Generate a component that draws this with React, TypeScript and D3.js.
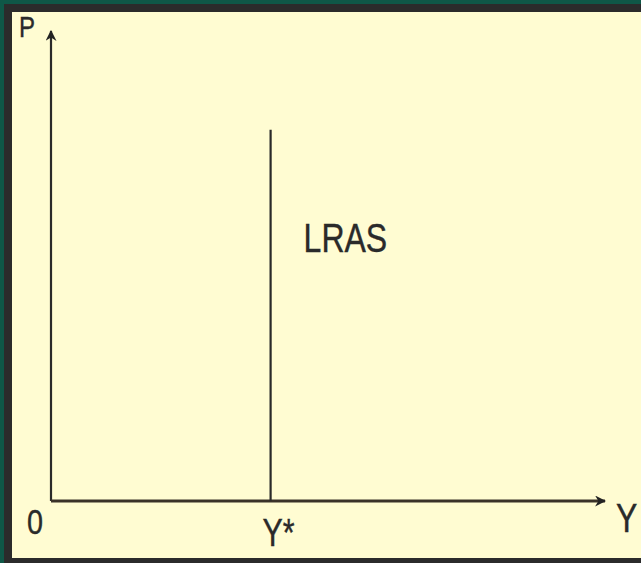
import React, { useEffect, useRef } from 'react';
import * as d3 from 'd3';

// axis labels and the single LRAS curve
const axisNames = { x: 'Y', y: 'P' };
const xTickValues = [0, 40];
const xTickLabels = ['0', 'Y*'];
const lrasX = [40, 40];
const lrasY = [0, 79];
const curveLabel = 'LRAS';

export default function App() {
  const ref = useRef<SVGSVGElement>(null);

  useEffect(() => {
    const width = 641;
    const height = 563;
    const svg = d3.select(ref.current);
    svg.selectAll('*').remove();
    svg.attr('width', width).attr('height', height);

    // frame
    svg.append('rect').attr('width', width).attr('height', height).attr('fill', '#0f5747');
    svg.append('rect').attr('x', 4).attr('y', 4).attr('width', width - 4).attr('height', height - 4).attr('fill', '#2b2b2b');
    svg.append('rect').attr('x', 12).attr('y', 12).attr('width', width - 12).attr('height', 546).attr('fill', '#fffcd2');

    const x = d3.scaleLinear().domain([0, 100]).range([51, 600]);
    const y = d3.scaleLinear().domain([0, 100]).range([501, 31]);

    const defs = svg.append('defs');
    defs.append('marker')
      .attr('id', 'arr')
      .attr('viewBox', '0 0 10 10')
      .attr('refX', 9)
      .attr('refY', 5)
      .attr('markerWidth', 11)
      .attr('markerHeight', 11)
      .attr('markerUnits', 'userSpaceOnUse')
      .attr('orient', 'auto')
      .append('path')
      .attr('d', 'M0,0 L10,5 L0,10 L3,5 Z')
      .attr('fill', '#222');

    const ink = '#2a2a2a';

    // axes
    svg.append('line')
      .attr('x1', x(0)).attr('y1', y(0)).attr('x2', x(0)).attr('y2', y(100))
      .attr('stroke', ink).attr('stroke-width', 2.2).attr('marker-end', 'url(#arr)');
    svg.append('line')
      .attr('x1', x(0)).attr('y1', y(0)).attr('x2', x(100) + 5).attr('y2', y(0))
      .attr('stroke', '#3a3228').attr('stroke-width', 3).attr('marker-end', 'url(#arr)');

    // LRAS
    const line = d3.line<number>().x((d, i) => x(lrasX[i])).y(d => y(d));
    svg.append('path')
      .attr('d', line(lrasY))
      .attr('fill', 'none')
      .attr('stroke', ink)
      .attr('stroke-width', 2.2);

    const txt = (s: string, tx: number, ty: number, size: number, anchor = 'start') => {
      svg.append('text')
        .attr('transform', `translate(${tx},${ty}) scale(0.8,1)`)
        .attr('text-anchor', anchor)
        .attr('font-family', 'Liberation Sans, Arial, sans-serif')
        .attr('font-size', size)
        .attr('fill', '#2a2a2a')
        .attr('stroke', '#2a2a2a')
        .attr('stroke-width', 0.4)
        .text(s);
    };

    txt(axisNames.y, 19, 37, 30);
    txt(axisNames.x, 616, 532, 40);
    xTickValues.forEach((v, i) => {
      const px = x(v) + (i === 0 ? -16 : 8);
      txt(xTickLabels[i], px, i === 0 ? 534 : 546, i === 0 ? 36 : 38, 'middle');
    });
    txt(curveLabel, x(lrasX[0]) + 33, 252, 40);
  }, []);

  return (
    <div style={{ position: 'absolute', left: 0, top: 0 }}>
      <svg ref={ref} style={{ display: 'block' }} />
    </div>
  );
}
